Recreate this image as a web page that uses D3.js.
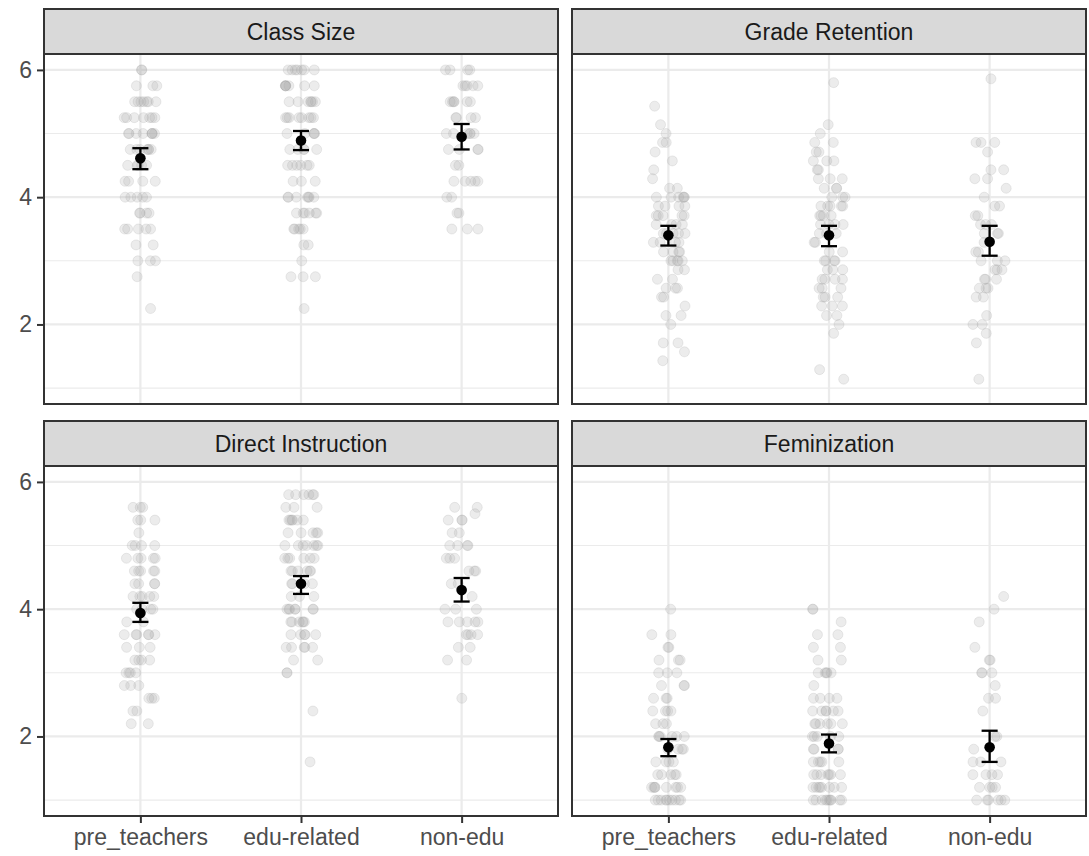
<!DOCTYPE html>
<html>
<head>
<meta charset="utf-8">
<script src="https://cdn.jsdelivr.net/npm/d3@7"></script>
<style>
  html, body { margin: 0; padding: 0; background: #ffffff; }
  svg { display: block; font-family: "Liberation Sans", Arial, sans-serif; }
</style>
</head>
<body>
<svg id="chart" width="1089" height="856"></svg>
<script>
// categories and facets
const groups = ["pre_teachers", "edu-related", "non-edu"];
const facets = ["Class Size", "Grade Retention", "Direct Instruction", "Feminization"];
const yMajor = [2, 4, 6];
const yMinor = [1, 3, 5];

// raw responses, as [value, count]
const classSizePre = [[6, 2], [5.75, 3], [5.5, 7], [5.25, 7], [5, 8], [4.75, 7], [4.5, 5], [4.25, 4], [4, 5], [3.75, 4], [3.5, 5], [3.25, 2], [3, 3], [2.75, 1], [2.25, 1]];
const classSizeEdu = [[6, 7], [5.75, 7], [5.5, 7], [5.25, 8], [5, 5], [4.75, 5], [4.5, 6], [4.25, 3], [4, 7], [3.75, 6], [3.5, 5], [3.25, 2], [3, 1], [2.75, 3], [2.25, 1]];
const classSizeNon = [[6, 4], [5.75, 5], [5.5, 6], [5.25, 4], [5, 6], [4.75, 4], [4.5, 2], [4.25, 5], [4, 2], [3.75, 2], [3.5, 3]];

const retentionPre = [[5.43, 1], [5.14, 1], [5, 1], [4.86, 2], [4.71, 1], [4.57, 1], [4.43, 1], [4.29, 1], [4.14, 2], [4, 6], [3.86, 4], [3.71, 5], [3.57, 4], [3.43, 5], [3.29, 4], [3.14, 4], [3, 5], [2.86, 2], [2.71, 2], [2.57, 3], [2.43, 2], [2.29, 1], [2.14, 2], [2, 1], [1.71, 2], [1.57, 1], [1.43, 1]];
const retentionEdu = [[5.8, 1], [5.14, 1], [5, 1], [4.86, 2], [4.71, 2], [4.57, 3], [4.43, 2], [4.29, 3], [4.14, 3], [4, 3], [3.86, 5], [3.71, 4], [3.57, 4], [3.43, 3], [3.29, 2], [3.14, 2], [3, 4], [2.86, 3], [2.71, 4], [2.57, 3], [2.43, 3], [2.29, 3], [2.14, 2], [2, 1], [1.86, 1], [1.29, 1], [1.14, 1]];
const retentionNon = [[5.86, 1], [4.86, 3], [4.71, 1], [4.43, 2], [4.29, 2], [4.14, 1], [4, 1], [3.86, 2], [3.71, 2], [3.57, 3], [3.43, 3], [3.29, 1], [3.14, 2], [3, 3], [2.86, 3], [2.71, 3], [2.57, 3], [2.43, 2], [2.14, 1], [2, 2], [1.86, 1], [1.71, 1], [1.14, 1]];

const directPre = [[5.6, 3], [5.4, 3], [5.2, 1], [5, 4], [4.8, 5], [4.6, 5], [4.4, 4], [4.2, 5], [4, 4], [3.8, 2], [3.6, 6], [3.4, 3], [3.2, 4], [3, 4], [2.8, 3], [2.6, 3], [2.4, 2], [2.2, 2]];
const directEdu = [[5.8, 6], [5.6, 3], [5.4, 6], [5.2, 5], [5, 7], [4.8, 6], [4.6, 6], [4.4, 4], [4.2, 3], [4, 7], [3.8, 6], [3.6, 5], [3.4, 5], [3.2, 2], [3, 2], [2.4, 1], [1.6, 1]];
const directNon = [[5.6, 2], [5.5, 1], [5.4, 3], [5.2, 2], [5, 4], [4.8, 3], [4.6, 3], [4.4, 2], [4.2, 1], [4, 3], [3.8, 5], [3.6, 4], [3.4, 2], [3.2, 2], [2.6, 1]];

const feminPre = [[4, 1], [3.6, 2], [3.4, 2], [3.2, 3], [3, 3], [2.8, 3], [2.6, 3], [2.4, 4], [2.2, 3], [2, 6], [1.8, 4], [1.6, 4], [1.4, 5], [1.2, 8], [1, 10]];
const feminEdu = [[4, 2], [3.8, 1], [3.6, 2], [3.4, 2], [3.2, 2], [3, 5], [2.8, 1], [2.6, 4], [2.4, 6], [2.2, 6], [2, 5], [1.8, 4], [1.6, 5], [1.4, 7], [1.2, 8], [1, 10]];
const feminNon = [[4.2, 1], [4, 1], [3.8, 1], [3.4, 1], [3.2, 2], [3, 3], [2.8, 1], [2.6, 2], [2.4, 1], [2, 2], [1.8, 1], [1.6, 3], [1.4, 4], [1.2, 4], [1, 6]];

// group means with 95% interval [mean, lower, upper]
const classSizeMeans = [[4.61, 4.44, 4.77], [4.89, 4.74, 5.04], [4.95, 4.75, 5.15]];
const retentionMeans = [[3.40, 3.24, 3.55], [3.40, 3.23, 3.55], [3.30, 3.08, 3.55]];
const directMeans = [[3.94, 3.80, 4.10], [4.40, 4.24, 4.52], [4.30, 4.12, 4.49]];
const feminMeans = [[1.83, 1.69, 1.96], [1.89, 1.75, 2.03], [1.83, 1.60, 2.09]];

const panelPoints = [
  [classSizePre, classSizeEdu, classSizeNon],
  [retentionPre, retentionEdu, retentionNon],
  [directPre, directEdu, directNon],
  [feminPre, feminEdu, feminNon],
];
const panelMeans = [classSizeMeans, retentionMeans, directMeans, feminMeans];

// layout
const cols = [{ x0: 44, x1: 558 }, { x0: 572, x1: 1086 }];
const rowsY = [{ s0: 9, y0: 54, y1: 404 }, { s0: 421, y0: 466, y1: 816 }];
const fontSize = 23;

const svg = d3.select("#chart");

// deterministic jitter (geom_jitter style, width 0.1)
let seed = 20240607;
function jitterRand() {
  seed = (seed * 1664525 + 1013904223) % 4294967296;
  return seed / 4294967296;
}

facets.forEach((name, i) => {
  const col = cols[i % 2];
  const row = rowsY[Math.floor(i / 2)];
  const x = d3.scalePoint().domain(groups).range([col.x0, col.x1]).padding(0.6);
  const y = d3.scaleLinear().domain([0.75, 6.25]).range([row.y1, row.y0]);
  const g = svg.append("g");

  g.append("rect")
    .attr("x", col.x0).attr("y", row.y0)
    .attr("width", col.x1 - col.x0).attr("height", row.y1 - row.y0)
    .attr("fill", "#ffffff");

  g.append("g").selectAll("line").data(yMinor).join("line")
    .attr("x1", col.x0).attr("x2", col.x1)
    .attr("y1", (d) => y(d)).attr("y2", (d) => y(d))
    .attr("stroke", "#ebebeb").attr("stroke-width", 1.1);

  g.append("g").selectAll("line").data(yMajor).join("line")
    .attr("x1", col.x0).attr("x2", col.x1)
    .attr("y1", (d) => y(d)).attr("y2", (d) => y(d))
    .attr("stroke", "#ebebeb").attr("stroke-width", 2.2);

  g.append("g").selectAll("line").data(groups).join("line")
    .attr("x1", (d) => x(d)).attr("x2", (d) => x(d))
    .attr("y1", row.y0).attr("y2", row.y1)
    .attr("stroke", "#ebebeb").attr("stroke-width", 2.2);

  // jittered raw points
  const pts = [];
  panelPoints[i].forEach((list, gi) => {
    list.forEach(([v, n]) => {
      for (let k = 0; k < n; k++) {
        pts.push({ group: groups[gi], value: v, dx: (jitterRand() * 2 - 1) * 0.105 });
      }
    });
  });
  g.append("g").selectAll("circle").data(pts).join("circle")
    .attr("cx", (d) => x(d.group) + d.dx * x.step())
    .attr("cy", (d) => y(d.value))
    .attr("r", 5)
    .attr("fill", "#a3a3a3").attr("fill-opacity", 0.21)
    .attr("stroke", "#a3a3a3").attr("stroke-opacity", 0.21).attr("stroke-width", 1);

  // error bars and means
  const means = panelMeans[i].map((m, gi) => ({ group: groups[gi], mean: m[0], lo: m[1], hi: m[2] }));
  const bars = g.append("g").selectAll("g").data(means).join("g");
  const capHalf = 0.05 * x.step();
  bars.append("line")
    .attr("x1", (d) => x(d.group)).attr("x2", (d) => x(d.group))
    .attr("y1", (d) => y(d.lo)).attr("y2", (d) => y(d.hi))
    .attr("stroke", "#000").attr("stroke-width", 2.3);
  bars.append("line")
    .attr("x1", (d) => x(d.group) - capHalf).attr("x2", (d) => x(d.group) + capHalf)
    .attr("y1", (d) => y(d.lo)).attr("y2", (d) => y(d.lo))
    .attr("stroke", "#000").attr("stroke-width", 2.3);
  bars.append("line")
    .attr("x1", (d) => x(d.group) - capHalf).attr("x2", (d) => x(d.group) + capHalf)
    .attr("y1", (d) => y(d.hi)).attr("y2", (d) => y(d.hi))
    .attr("stroke", "#000").attr("stroke-width", 2.3);
  bars.append("circle")
    .attr("cx", (d) => x(d.group)).attr("cy", (d) => y(d.mean))
    .attr("r", 5.3).attr("fill", "#000");

  // panel border
  g.append("rect")
    .attr("x", col.x0).attr("y", row.y0)
    .attr("width", col.x1 - col.x0).attr("height", row.y1 - row.y0)
    .attr("fill", "none").attr("stroke", "#333333").attr("stroke-width", 2);

  // strip
  g.append("rect")
    .attr("x", col.x0).attr("y", row.s0)
    .attr("width", col.x1 - col.x0).attr("height", row.y0 - row.s0)
    .attr("fill", "#d9d9d9").attr("stroke", "#333333").attr("stroke-width", 2);
  g.append("text")
    .attr("x", (col.x0 + col.x1) / 2).attr("y", (row.s0 + row.y0) / 2)
    .attr("text-anchor", "middle").attr("dominant-baseline", "central")
    .attr("fill", "#1a1a1a").attr("font-size", fontSize)
    .text(name);

  if (i % 2 === 0) {
    g.append("g")
      .attr("transform", `translate(${col.x0},0)`)
      .call(d3.axisLeft(y).tickValues(yMajor).tickSize(7).tickPadding(5).tickFormat(d3.format("d")))
      .call((axis) => axis.select(".domain").remove())
      .call((axis) => axis.selectAll("line").attr("stroke", "#333333").attr("stroke-width", 2))
      .call((axis) => axis.selectAll("text").attr("fill", "#4d4d4d").attr("font-size", fontSize).attr("font-family", "Liberation Sans, Arial, sans-serif"));
  }
  if (i >= 2) {
    g.append("g")
      .attr("transform", `translate(0,${row.y1})`)
      .call(d3.axisBottom(x).tickSize(7).tickPadding(6))
      .call((axis) => axis.select(".domain").remove())
      .call((axis) => axis.selectAll("line").attr("stroke", "#333333").attr("stroke-width", 2))
      .call((axis) => axis.selectAll("text").attr("fill", "#4d4d4d").attr("font-size", fontSize).attr("font-family", "Liberation Sans, Arial, sans-serif"));
  }
});
</script>
</body>
</html>
